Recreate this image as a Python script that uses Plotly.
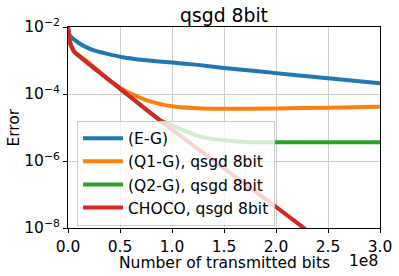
import plotly.graph_objects as go

# Data (x in units of 1e8 transmitted bits)
x_eg = [0, 0.01, 0.03, 0.06, 0.1, 0.17, 0.25, 0.37, 0.51, 0.75, 1.0, 1.25, 1.5, 1.75, 2.0, 2.25, 2.5, 2.75, 3.0]
y_eg = [1e-2, 6.6e-3, 5.0e-3, 4.2e-3, 3.4e-3, 2.55e-3, 2.0e-3, 1.6e-3, 1.28e-3, 1.02e-3, 8.7e-4, 7.4e-4, 6.0e-4, 5.0e-4, 4.2e-4, 3.5e-4, 2.95e-4, 2.5e-4, 2.1e-4]

x_q1 = [0, 0.01, 0.03, 0.06, 0.2, 0.4, 0.5, 0.6, 0.75, 0.9, 1.0, 1.2, 1.4, 2.0, 2.5, 3.0]
y_q1 = [1e-2, 4.5e-3, 2.8e-3, 1.82e-3, 8.6e-4, 2.55e-4, 1.55e-4, 1.05e-4, 6.6e-5, 4.9e-5, 4.3e-5, 3.8e-5, 3.6e-5, 3.7e-5, 3.9e-5, 4.15e-5]

x_q2 = [0, 0.01, 0.03, 0.06, 0.5, 0.8, 0.885, 1.0, 1.1, 1.27, 1.46, 1.7, 2.0, 2.5, 3.0]
y_q2 = [1e-2, 4.5e-3, 2.8e-3, 1.82e-3, 1.45e-4, 2.6e-5, 1.65e-5, 1.17e-5, 8.5e-6, 5.4e-6, 4.3e-6, 3.7e-6, 3.6e-6, 3.6e-6, 3.6e-6]

x_choco = [0, 0.01, 0.03, 0.06, 0.5, 0.9, 1.5, 2.0, 2.5, 3.0]
y_choco = [1e-2, 4.5e-3, 2.8e-3, 1.82e-3, 1.45e-4, 1.5e-5, 6.0e-7, 4.3e-8, 2.8e-9, 1.8e-10]

names = ["(E-G)", "(Q1-G), qsgd 8bit", "(Q2-G), qsgd 8bit", "CHOCO, qsgd 8bit"]
colors = ["#1f77b4", "#ff7f0e", "#2ca02c", "#d62728"]
xtick_vals = [0, 0.5, 1.0, 1.5, 2.0, 2.5, 3.0]
xtick_text = ["0.0", "0.5", "1.0", "1.5", "2.0", "2.5", "3.0"]
ytick_vals = [1e-8, 1e-6, 1e-4, 1e-2]
ytick_text = ["10<sup>−8</sup>", "10<sup>−6</sup>", "10<sup>−4</sup>", "10<sup>−2</sup>"]

scale = 1e8
series = [(x_eg, y_eg), (x_q1, y_q1), (x_q2, y_q2), (x_choco, y_choco)]

fig = go.Figure()
for i, ((xs, ys), n, c) in enumerate(zip(series, names, colors)):
    fig.add_trace(go.Scatter(
        x=[v * scale for v in xs], y=ys, mode="lines", name=n,
        line=dict(color=c, width=4, shape="spline", smoothing=0.4),
    ))

font = "DejaVu Sans"
fs = 15.5
axis_common = dict(
    showline=True, linecolor="black", linewidth=1, mirror=True,
    ticks="outside", ticklen=4, tickcolor="black", automargin=False,
    showgrid=True, gridcolor="#cbcbcb", gridwidth=1, zeroline=False,
    tickfont=dict(family=font, size=fs, color="black"),
)
fig.update_layout(
    width=399, height=276,
    margin=dict(l=68, r=19, t=27, b=48),
    paper_bgcolor="white", plot_bgcolor="white",
    font=dict(family=font, size=fs, color="black"),
    title=dict(text="qsgd 8bit", xref="paper", x=0.5, xanchor="center",
               yref="container", y=1 - 15 / 276, yanchor="middle",
               font=dict(family=font, size=18.8, color="black")),
    xaxis=dict(range=[0, 3e8], tickvals=[v * scale for v in xtick_vals], ticktext=xtick_text,
               **axis_common),
    yaxis=dict(type="log", range=[-8, -2], tickvals=ytick_vals, ticktext=ytick_text,
               **axis_common),
    legend=dict(x=0.029, y=0.012, xanchor="left", yanchor="bottom",
                bgcolor="rgba(255,255,255,0.8)", bordercolor="#cccccc", borderwidth=1,
                font=dict(family=font, size=fs), itemwidth=40),
    showlegend=True,
)
fig.add_annotation(text="Number of transmitted bits", xref="paper", yref="paper",
                   x=0.5, y=-0.172, xanchor="center", yanchor="middle", showarrow=False,
                   font=dict(family=font, size=fs, color="black"))
fig.add_annotation(text="1e8", xref="paper", yref="paper", x=1.0, y=-0.162,
                   xanchor="right", yanchor="middle", showarrow=False,
                   font=dict(family=font, size=fs, color="black"))
fig.add_annotation(text="Error", xref="paper", yref="paper", x=-0.176, y=0.5,
                   xanchor="center", yanchor="middle", textangle=-90, showarrow=False,
                   font=dict(family=font, size=fs, color="black"))
fig.write_html("out.html", config={"displayModeBar": False},
               post_script="document.body.style.margin='0';document.body.style.padding='0';")
